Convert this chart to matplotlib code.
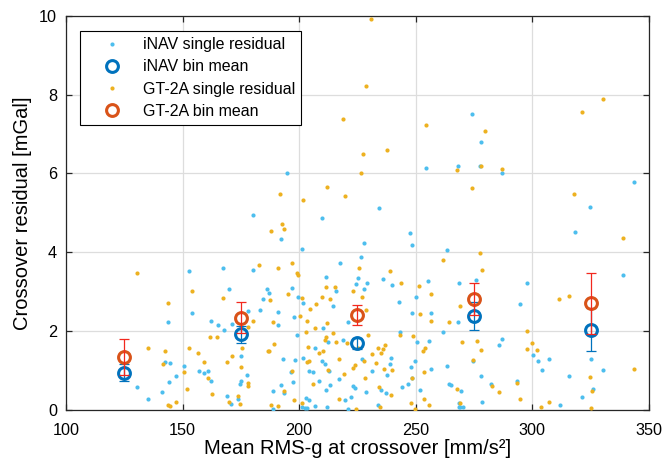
import matplotlib
matplotlib.use("Agg")
import matplotlib.pyplot as plt
import numpy as np

plt.rcParams['font.family'] = ['Liberation Sans', 'DejaVu Sans']

# ---------------- data ----------------
inav_x = [194.9, 254.4, 268.1, 234.4, 274.0, 278.1, 277.7, 286.8, 343.7, 324.6,
          180.2, 167.3, 180.3, 152.7, 170.0, 186.1, 184.5, 154.1, 178.2, 183.0,
          143.9, 162.0, 165.0, 167.6, 171.3, 142.6, 144.5, 175.0, 150.6, 157.0,
          159.3, 160.7, 162.0, 147.0, 144.3, 177.7, 175.2, 174.6, 130.6, 141.3,
          135.2, 169.0, 173.6, 170.8,
          209.9, 192.0, 247.7, 248.2, 227.8, 201.1, 263.5, 226.5, 217.5, 225.2,
          211.3, 235.9, 239.9, 229.2, 224.2, 215.9, 227.9, 255.1, 268.5, 187.2,
          197.1, 199.5, 201.8, 249.9, 242.8, 214.4, 191.1, 197.9, 248.5, 256.4,
          268.1, 191.1, 220.9, 210.4, 199.2, 212.5, 218.9, 243.2, 250.7, 255.5,
          261.7, 206.9, 192.9, 198.1, 201.5, 209.8, 211.1, 226.9, 239.5, 239.1,
          237.8, 231.4, 249.5, 247.9, 256.4, 263.5, 196.5, 204.3, 206.1, 212.8,
          217.2, 208.5, 197.2, 213.2, 222.9, 224.1, 234.9, 237.1, 243.9, 246.7,
          248.4, 251.9, 264.4, 265.1, 192.1, 188.9, 193.5, 211.6, 228.6, 202.8,
          204.1, 219.8, 222.1, 268.7, 188.9, 201.1, 202.5, 203.2, 206.8, 212.1,
          220.8, 233.8, 268.7,
          318.3, 275.8, 297.7, 339.0, 294.7, 287.0, 285.5, 300.1, 302.4, 307.3,
          304.0, 274.7, 325.3, 330.1, 278.1, 269.5, 282.1, 293.5, 315.8, 325.8,
          321.4, 278.5, 269.0, 270.4, 312.0]
inav_y = [6.01, 6.13, 6.20, 5.12, 7.52, 6.79, 6.18, 6.00, 5.79, 5.15,
          4.94, 3.61, 3.54, 3.52, 3.07, 3.06, 2.81, 2.46, 2.52, 2.54,
          2.22, 2.26, 2.15, 2.02, 2.18, 1.22, 1.20, 1.36, 1.12, 0.99,
          0.95, 0.99, 0.73, 0.86, 0.72, 0.89, 0.74, 0.66, 0.58, 0.45,
          0.27, 0.35, 0.27, 0.14,
          4.86, 4.35, 4.49, 4.19, 4.24, 4.09, 4.06, 3.88, 3.74, 3.36,
          3.38, 3.32, 3.18, 3.23, 3.19, 3.03, 3.08, 3.27, 3.21, 2.96,
          3.09, 2.87, 2.72, 2.87, 2.74, 2.65, 2.49, 2.35, 2.45, 2.45,
          2.22, 2.15, 2.23, 2.07, 1.89, 1.73, 1.78, 1.99, 1.73, 1.76,
          1.99, 1.58, 1.29, 1.26, 1.31, 1.25, 1.17, 1.29, 1.33, 1.17,
          0.90, 0.99, 1.25, 1.10, 1.03, 1.12, 0.96, 0.99, 0.97, 1.00,
          0.78, 0.74, 0.71, 0.64, 0.62, 0.56, 0.50, 0.44, 0.59, 0.67,
          0.80, 0.50, 0.66, 0.63, 0.63, 0.47, 0.44, 0.51, 0.46, 0.30,
          0.25, 0.26, 0.32, 0.19, 0.02, 0.07, 0.05, 0.05, 0.09, 0.07,
          0.03, 0.13, 0.08,
          4.51, 3.30, 3.22, 3.42, 2.69, 1.81, 1.64, 1.40, 1.24, 1.29,
          1.02, 1.25, 1.30, 1.02, 0.86, 0.47, 0.65, 0.74, 0.85, 0.52,
          0.33, 0.21, 0.08, 0.08, 0.13]

gt_x = [230.9, 228.8, 218.8, 254.5, 237.6, 227.2, 226.4, 267.5, 191.9, 212.1,
        201.8, 219.6, 279.5, 278.1, 287.1, 274.0, 330.3, 321.3, 317.7,
        182.9, 130.6, 154.1, 167.3, 143.9, 180.3, 177.9, 161.9, 164.9, 135.4,
        142.6, 152.7, 156.7, 175.3, 186.5, 141.5, 159.3, 169.0, 171.3, 150.5,
        175.0, 160.7, 178.2, 177.9, 152.0, 162.6, 173.9, 169.9, 174.6, 147.0,
        143.7, 144.6,
        192.8, 193.3, 188.1, 190.9, 197.1, 225.8, 199.1, 199.6, 239.1, 261.7,
        243.8, 211.3, 215.3, 223.1, 251.2, 195.1, 187.3, 201.3, 209.8, 213.3,
        226.9, 256.4, 207.1, 204.5, 228.6, 200.5, 251.9, 256.5, 264.4, 188.8,
        203.2, 212.1, 206.8, 202.8, 214.4, 211.6, 211.1, 215.8, 220.6, 229.5,
        243.2, 248.7, 189.1, 187.2, 203.8, 208.3, 210.4, 236.9, 235.9, 233.6,
        234.9, 231.4, 225.1, 254.1, 253.2, 203.2, 204.3, 217.2, 227.9, 232.9,
        236.4, 239.8, 223.1, 223.8, 253.6, 196.8, 212.2, 219.1, 228.1, 248.4,
        206.1, 234.4, 267.7, 193.6, 239.5, 197.9, 201.2, 217.1, 247.9, 253.4,
        255.5, 187.8, 191.1, 224.2, 234.6, 249.7,
        338.7, 277.4, 278.5, 311.4, 315.8, 269.0, 297.7, 269.7, 276.1, 278.0,
        297.7, 300.0, 301.8, 274.5, 343.6, 282.5, 285.5, 293.4, 324.6, 325.7,
        294.7, 307.3, 269.0, 303.7, 325.3]
gt_y = [9.91, 8.22, 7.38, 7.23, 6.60, 6.49, 6.01, 6.08, 5.48, 5.66,
        5.33, 5.42, 7.08, 6.20, 6.11, 5.62, 7.90, 7.57, 5.49,
        3.67, 3.47, 3.03, 2.84, 2.72, 2.26, 2.11, 1.84, 1.84, 1.56,
        1.49, 1.58, 1.44, 1.56, 1.50, 1.17, 1.23, 1.23, 1.38, 0.96,
        1.09, 0.82, 0.68, 0.62, 0.52, 0.41, 0.36, 0.20, 0.14, 0.20,
        0.13, 0.10,
        4.73, 4.59, 4.55, 3.59, 3.72, 3.59, 3.48, 3.42, 3.53, 3.80,
        3.23, 3.13, 3.13, 3.02, 3.15, 2.94, 2.78, 2.84, 2.87, 2.82,
        2.87, 2.93, 2.68, 2.56, 2.54, 2.39, 2.43, 2.27, 2.22, 2.23,
        2.26, 2.21, 2.09, 1.98, 1.95, 1.85, 1.78, 1.72, 1.69, 1.89,
        1.90, 1.87, 1.68, 1.50, 1.60, 1.45, 1.50, 1.64, 1.54, 1.56,
        1.45, 1.43, 1.57, 1.57, 1.50, 1.23, 1.24, 1.30, 1.25, 1.19,
        1.05, 1.02, 1.07, 1.13, 0.97, 1.00, 1.02, 0.92, 0.81, 0.80,
        0.65, 0.58, 0.52, 0.49, 0.37, 0.26, 0.19, 0.28, 0.18, 0.28,
        0.13, 0.13, 0.09, 0.03, 0.08, 0.02,
        4.37, 3.99, 3.54, 2.81, 2.90, 2.65, 2.01, 1.73, 1.75, 1.52,
        1.55, 1.71, 1.51, 1.28, 1.05, 0.62, 0.45, 0.69, 0.84, 0.47,
        0.29, 0.21, 0.19, 0.08, 0.06]

bin_centers = [125, 175, 225, 275, 325]
inav_mean = [0.95, 1.92, 1.69, 2.38, 2.04]
inav_err = [0.22, 0.22, 0.14, 0.35, 0.54]
gt_mean = [1.35, 2.34, 2.41, 2.82, 2.71]
gt_err = [0.45, 0.39, 0.25, 0.40, 0.77]

x_ticks = [100, 150, 200, 250, 300, 350]
y_ticks = [0, 2, 4, 6, 8, 10]

# ---------------- figure ----------------
c_inav_dot = '#4DBEEE'
c_inav_bin = '#0072BD'
c_gt_dot = '#EDB120'
c_gt_bin = '#D95319'
c_gt_err = '#F2281E'
fs_tick = 11.7
fs_label = 14.5
fs_leg = 11.5

fig = plt.figure(figsize=(6.66, 4.65), dpi=100)
ax = fig.add_axes([0.099, 0.1183, 0.8755, 0.8477])

ax.plot(inav_x, inav_y, linestyle='none', marker='o', markersize=3.0,
        markerfacecolor=c_inav_dot, markeredgecolor='none',
        label='iNAV single residual', zorder=3)
ax.plot(bin_centers, inav_mean, linestyle='none', marker='o', markersize=8.5,
        markerfacecolor='none', markeredgecolor=c_inav_bin, markeredgewidth=2.2,
        label='iNAV bin mean', zorder=5)
ax.errorbar(bin_centers, inav_mean, yerr=inav_err, fmt='none',
            ecolor=c_inav_bin, elinewidth=0.9, capsize=3.8, capthick=0.9, zorder=6)
ax.plot(gt_x, gt_y, linestyle='none', marker='o', markersize=3.0,
        markerfacecolor=c_gt_dot, markeredgecolor='none',
        label='GT-2A single residual', zorder=4)
ax.plot(bin_centers, gt_mean, linestyle='none', marker='o', markersize=8.5,
        markerfacecolor='none', markeredgecolor=c_gt_bin, markeredgewidth=2.2,
        label='GT-2A bin mean', zorder=7)
ax.errorbar(bin_centers, gt_mean, yerr=gt_err, fmt='none',
            ecolor=c_gt_err, elinewidth=0.9, capsize=3.8, capthick=0.9, zorder=8)

ax.set_xlim(100, 350)
ax.set_ylim(0, 10)
ax.set_xticks(x_ticks)
ax.set_yticks(y_ticks)
ax.grid(True, color='#DDDDDD', linewidth=0.9, zorder=0)
ax.set_axisbelow(True)

for s in ax.spines.values():
    s.set_color('#262626')
    s.set_linewidth(0.9)
ax.tick_params(direction='in', length=4, width=0.9, color='#262626',
               labelsize=fs_tick, labelcolor='black', top=True, right=True)
ax.tick_params(axis='x', pad=9.3)
ax.tick_params(axis='y', pad=6.3)

ax.set_xlabel('Mean RMS-g at crossover [mm/s²]', fontsize=fs_label, labelpad=1)
ax.set_ylabel('Crossover residual [mGal]', fontsize=fs_label, labelpad=5)

leg = ax.legend(loc='upper left', bbox_to_anchor=(0.024, 0.961), borderaxespad=0,
                fontsize=fs_leg, frameon=True, fancybox=False, edgecolor='black',
                framealpha=1, borderpad=0.38, handlelength=3.2, handletextpad=0.35,
                labelspacing=0.45)
leg.get_frame().set_linewidth(0.8)
leg.set_zorder(20)

fig.savefig('out.png', dpi=100)
